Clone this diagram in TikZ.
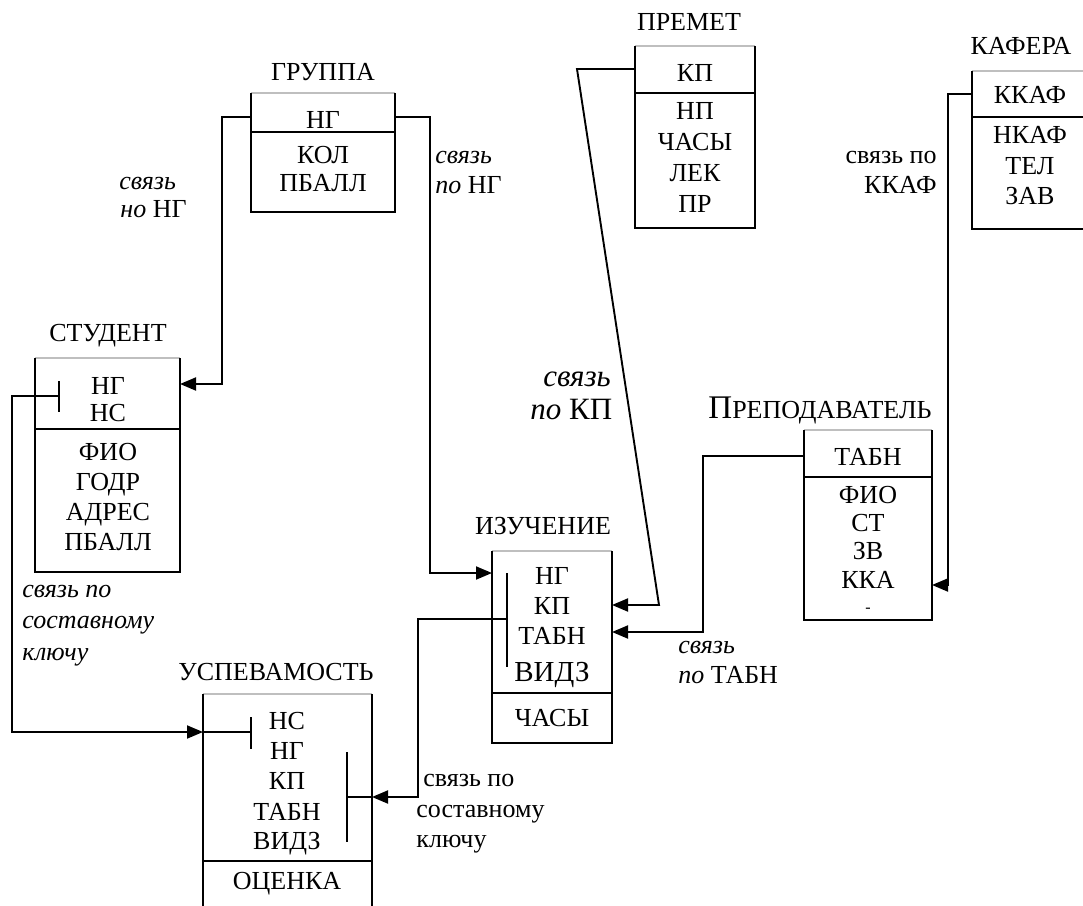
\documentclass[tikz,border=0pt]{standalone}
\usepackage{fontspec}
\setmainfont{Liberation Serif}
\usetikzlibrary{arrows.meta}
\tikzset{
  >={Triangle[length=8pt,width=6.5pt]},
  tbl/.style={line width=0.9pt},
  topln/.style={draw=black!25,line width=0.6pt},
  fld/.style={font=\fontsize{13}{15}\selectfont,inner sep=0pt,text height=8.6pt,text depth=0pt},
  ttl/.style={fld},
  lnk/.style={line width=0.95pt},
  tick/.style={line width=0.95pt},
  lab/.style={font=\fontsize{13}{15}\selectfont,inner sep=0pt,anchor=base west},
}
\begin{document}
\begin{tikzpicture}[x=0.5pt,y=-0.5pt]
\useasboundingbox (0,0) rectangle (1083,906);

% ГРУППА
\node[ttl] (grT) at (323,72) {ГРУППА};
\draw[topln] (251,93) -- (395,93);
\draw[tbl] (251,93) |- (395,212) -- (395,93) (251,132) -- (395,132);
\node[fld] (grNG) at (323,120) {НГ};
\node[fld] (grKOL) at (323,155) {КОЛ};
\node[fld] (grPB) at (323,183) {ПБАЛЛ};
\coordinate (grL) at (251,117);
\coordinate (grR) at (395,117);

% СТУДЕНТ
\node[ttl] (stT) at (108,333) {СТУДЕНТ};
\draw[topln] (35,358) -- (180,358);
\draw[tbl] (35,358) |- (180,572) -- (180,358) (35,429) -- (180,429);
\node[fld] (stNG) at (108,386) {НГ};
\node[fld] (stNS) at (108,413) {НС};
\node[fld] (stFIO) at (108,452) {ФИО};
\node[fld] (stGOD) at (108,482) {ГОДР};
\node[fld] (stADR) at (108,512) {АДРЕС};
\node[fld] (stPB) at (108,542) {ПБАЛЛ};
\draw[tick] (59,381) -- (59,412);
\coordinate (stK) at (59,396);
\coordinate (stR) at (180,384);

% УСПЕВАМОСТЬ
\node[ttl] (usT) at (276,672) {УСПЕВАМОСТЬ};
\draw[topln] (203,694) -- (372,694);
\draw[tbl] (203,694) -- (203,906) (372,694) -- (372,906) (203,861) -- (372,861);
\node[fld] (usNS) at (287,721) {НС};
\node[fld] (usNG) at (287,751) {НГ};
\node[fld] (usKP) at (287,781) {КП};
\node[fld] (usTB) at (287,812) {ТАБН};
\node[fld] (usVZ) at (287,841) {ВИДЗ};
\node[fld] (usOC) at (287,881) {ОЦЕНКА};
\draw[tick] (251,717) -- (251,749);
\draw[tick] (347,752) -- (347,842);
\coordinate (usK) at (251,732);
\coordinate (usK2) at (347,797);
\coordinate (usL) at (203,732);
\coordinate (usR) at (372,797);

% ИЗУЧЕНИЕ
\node[ttl] (izT) at (543,526) {ИЗУЧЕНИЕ};
\draw[topln] (492,551) -- (612,551);
\draw[tbl] (492,551) |- (612,743) -- (612,551) (492,693) -- (612,693);
\node[fld] (izNG) at (552,576) {НГ};
\node[fld] (izKP) at (552,606) {КП};
\node[fld] (izTB) at (552,636) {ТАБН};
\node[fld,font=\fontsize{14.5}{16}\selectfont] (izVZ) at (552,673) {ВИДЗ};
\node[fld] (izCH) at (552,718) {ЧАСЫ};
\draw[tick] (507,573) -- (507,667);
\coordinate (izK) at (507,619);
\coordinate (izL) at (492,573);
\coordinate (izR1) at (612,605);
\coordinate (izR2) at (612,632);

% ПРЕМЕТ
\node[ttl] (pmT) at (689,22) {ПРЕМЕТ};
\draw[topln] (635,46) -- (755,46);
\draw[tbl] (635,46) |- (755,228) -- (755,46) (635,93) -- (755,93);
\node[fld] (pmKP) at (695,73) {КП};
\node[fld] (pmNP) at (695,111) {НП};
\node[fld] (pmCH) at (695,142) {ЧАСЫ};
\node[fld] (pmLK) at (695,173) {ЛЕК};
\node[fld] (pmPR) at (695,204) {ПР};
\coordinate (pmL) at (635,69);

% КАФЕРА
\node[ttl] (kfT) at (1021,46) {КАФЕРА};
\draw[topln] (972,71) -- (1083,71);
\draw[tbl] (1083,229) -| (972,71) (972,117) -- (1083,117);
\node[fld] (kfKK) at (1030,95) {ККАФ};
\node[fld] (kfNK) at (1030,135) {НКАФ};
\node[fld] (kfTL) at (1030,166) {ТЕЛ};
\node[fld] (kfZV) at (1030,196) {ЗАВ};
\coordinate (kfL) at (972,94);

% Преподаватель
\node[ttl,font=\fontsize{13}{15}\selectfont] (tcT) at (820,410) {{\fontsize{16.5}{18}\selectfont П}РЕПОДАВАТЕЛЬ};
\draw[topln] (804,430) -- (932,430);
\draw[tbl] (804,430) |- (932,620) -- (932,430) (804,477) -- (932,477);
\node[fld] (tcTB) at (868,457) {ТАБН};
\node[fld] (tcFIO) at (868,495) {ФИО};
\node[fld] (tcST) at (868,523) {СТ};
\node[fld] (tcZV) at (868,551) {ЗВ};
\node[fld] (tcKK) at (868,580) {ККА};
\node[fld,font=\fontsize{8}{9}\selectfont] (tcDs) at (868,604) {-};
\coordinate (tcL) at (804,456);
\coordinate (tcR) at (932,585);

% связи
\draw[lnk,->] (grL) -- (222,117) |- (stR);
\draw[lnk,->] (grR) -- (430,117) |- (izL);
\draw[lnk,->] (pmL) -- (577,69) -- (659,605) -- (izR1);
\draw[lnk,->] (tcL) -- (703,456) |- (izR2);
\draw[lnk,->] (kfL) -- (948,94) |- (tcR);
\draw[lnk,->] (stK) -- (12,396) |- (usL);
\draw[lnk] (usL) -- (usK);
\draw[lnk,->] (izK) -- (418,619) |- (usR);
\draw[lnk] (usR) -- (usK2);

% подписи
\node[lab,font=\fontsize{13}{15}\selectfont\itshape] (l1a) at (119,189) {связь};
\node[lab] (l1b) at (120,217) {\textit{но} НГ};
\node[lab,font=\fontsize{13}{15}\selectfont\itshape] (l2a) at (435,163) {связь};
\node[lab] (l2b) at (435,193) {\textit{по} НГ};
\node[lab,font=\fontsize{15.5}{17}\selectfont\itshape] (l3a) at (543,386) {связь};
\node[lab,font=\fontsize{15.5}{17}\selectfont] (l3b) at (530,419) {\textit{по} КП};
\node[lab,font=\fontsize{13}{15}\selectfont\itshape] (l4a) at (678,653) {связь};
\node[lab] (l4b) at (678,683) {\textit{по} ТАБН};
\node[lab,font=\fontsize{13}{15}\selectfont\itshape] (l5a) at (22,597) {связь по};
\node[lab,font=\fontsize{13}{15}\selectfont\itshape] (l5b) at (22,628) {составному};
\node[lab,font=\fontsize{13}{15}\selectfont\itshape] (l5c) at (22,660) {ключу};
\node[lab] (l6a) at (423,786) {связь по};
\node[lab] (l6b) at (416,817) {составному};
\node[lab] (l6c) at (416,847) {ключу};
\node[lab,anchor=base east] (l7a) at (937,163) {связь по};
\node[lab,anchor=base east] (l7b) at (937,193) {ККАФ};
\end{tikzpicture}
\end{document}
